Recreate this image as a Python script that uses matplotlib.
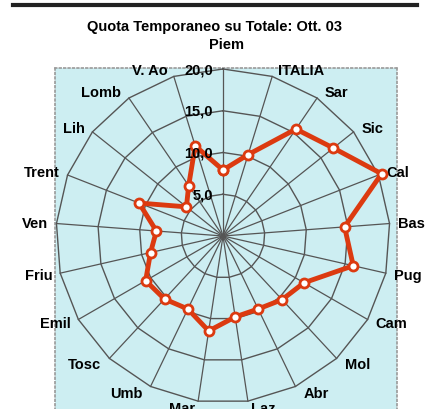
import numpy as np
import matplotlib
matplotlib.use("Agg")
import matplotlib.pyplot as plt
from matplotlib.lines import Line2D

CATEGORIES = ["Piem", "V. Ao", "Lomb", "Lih", "Trent", "Ven", "Friu", "Emil",
              "Tosc", "Umb", "Mar", "Laz", "Abr", "Mol", "Cam", "Pug", "Bas",
              "Cal", "Sic", "Sar", "ITALIA"]
QUOTA = [7.9, 11.3, 7.3, 5.6, 10.8, 8.0, 8.9, 10.7, 10.3, 9.7, 11.5, 9.8,
         9.7, 10.4, 11.2, 16.0, 14.6, 20.4, 16.9, 15.5, 10.2]
RINGS = [5.0, 10.0, 15.0, 20.0]
TITLE = "Quota Temporaneo su Totale: Ott. 03"

RED = "#dc3a10"
GRID = "#555555"
BG = "#cdeef2"

W, H, DPI = 427, 410, 100
CX, CY = 223, 237  # radar centre, px from top-left
PX_PER_UNIT = 8.35
RMAX = 24
FS = 10.5

plt.rcParams["font.family"] = ["Liberation Sans", "DejaVu Sans"]
fig = plt.figure(figsize=(W / DPI, H / DPI), dpi=DPI)

# heavy rule at the top
fig.add_artist(Line2D([13 / W, 417 / W], [1 - 6 / H] * 2, color="#222222", lw=3))
fig.text(215 / W, 1 - 27 / H, TITLE, ha="center", va="center",
         fontsize=FS, fontweight="bold")

# plot area background
bg = fig.add_axes([55 / W, -0.05, (397 - 55) / W, 1 - 69 / H + 0.05])
bg.set_facecolor(BG)
bg.set_xticks([])
bg.set_yticks([])
for s in bg.spines.values():
    s.set_linestyle(":")
    s.set_color("#999999")
    s.set_linewidth(1.2)

size = 2 * RMAX * PX_PER_UNIT
ax = fig.add_axes([(CX - size / 2) / W, (H - CY - size / 2) / H, size / W, size / H],
                  projection="polar")
ax.set_facecolor("none")
ax.set_theta_zero_location("N")
ax.set_theta_direction(1)
ax.set_ylim(0, RMAX)
ax.grid(False)
ax.set_xticks([])
ax.set_yticks([])
ax.spines["polar"].set_visible(False)

n = len(CATEGORIES)
theta = np.arange(n) * 2 * np.pi / n
closed = np.append(theta, theta[0])

for r in RINGS:
    ax.plot(closed, [r] * (n + 1), color=GRID, lw=1.0)
for t in theta:
    ax.plot([t, t], [0, RINGS[-1]], color=GRID, lw=0.9)

ax.plot(closed, QUOTA + QUOTA[:1], color=RED, lw=3.5, marker="o", ms=6.5,
        mfc="white", mec=RED, mew=2.0, zorder=5)

# value labels along the first spoke
for r in RINGS:
    ax.annotate(f"{r:.1f}".replace(".", ","), xy=(0, r), xytext=(-10, 0),
                textcoords="offset pixels", ha="right", va="center",
                fontsize=FS, fontweight="bold", zorder=6)

# category labels
for t, name in zip(theta, CATEGORIES):
    s, c = np.sin(t), np.cos(t)
    if abs(s) < 1e-6:
        ha, dx, dy = "center", 4, 25
    else:
        ha = "right" if s > 0 else "left"
        dx = -np.sign(s) * 8 * min(1.0, 2.5 * abs(s))
        dy = 7 * c
    ax.annotate(name, xy=(t, RINGS[-1]), xytext=(dx, dy),
                textcoords="offset pixels", ha=ha, va="center",
                fontsize=FS, fontweight="bold", annotation_clip=False)

fig.savefig("out.png", dpi=DPI)
